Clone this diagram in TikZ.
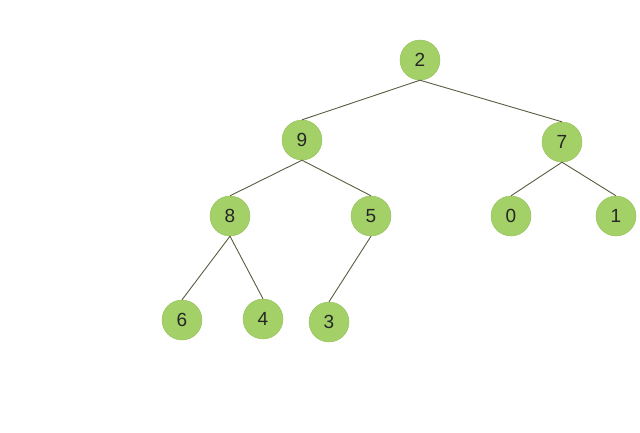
\documentclass[tikz,border=0pt]{standalone}
\usepackage{fontspec}
\setmainfont{Liberation Sans}
\usepackage{xcolor}
\usepackage{tikz}
\definecolor{leafgreen}{HTML}{A3D067}
\definecolor{leafedge}{HTML}{93C058}
\definecolor{branch}{HTML}{5C5C40}

\begin{document}
\begin{tikzpicture}[
  x=1pt, y=-1pt,
  num/.style={circle, draw=leafedge, fill=leafgreen, minimum size=40pt, inner sep=0pt, font=\fontsize{19}{22}\selectfont, text=black!85},
  link/.style={draw=branch, line width=0.9pt}
]
\useasboundingbox[fill=white] (0,0) rectangle (640,432);
\node[num] (n2) at (420,60) {2};
\node[num] (n9) at (302,140) {9};
\node[num] (n7) at (562,142) {7};
\node[num] (n8) at (230,216) {8};
\node[num] (n5) at (371,216) {5};
\node[num] (n0) at (511,216) {0};
\node[num] (n1) at (616,216) {1};
\node[num] (n6) at (182,320) {6};
\node[num] (n4) at (263,319) {4};
\node[num] (n3) at (329,322) {3};
\draw[link] (n2.south) -- (n9.north);
\draw[link] (n2.south) -- (n7.north);
\draw[link] (n9.south) -- (n8.north);
\draw[link] (n9.south) -- (n5.north);
\draw[link] (n7.south) -- (n0.north);
\draw[link] (n7.south) -- (n1.north);
\draw[link] (n8.south) -- (n6.north);
\draw[link] (n8.south) -- (n4.north);
\draw[link] (n5.south) -- (n3.north);
\end{tikzpicture}
\end{document}
